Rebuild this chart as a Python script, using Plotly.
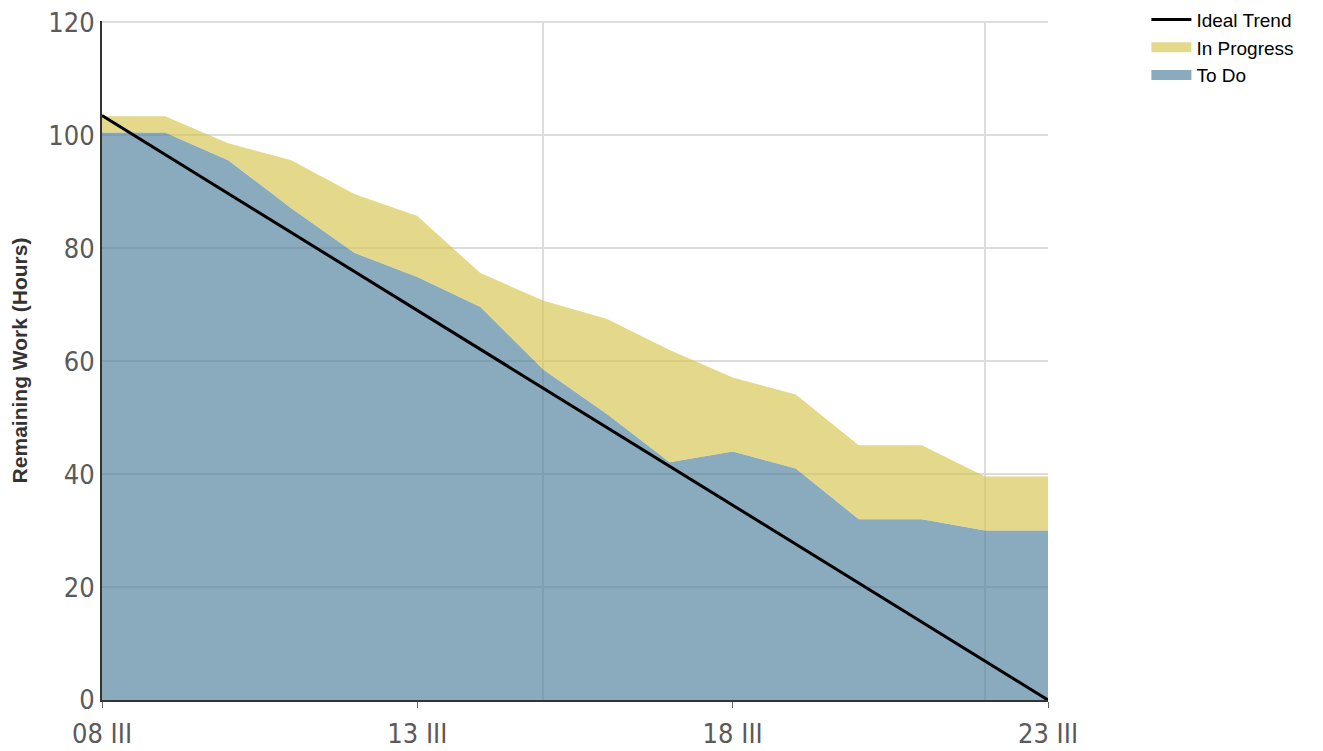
import plotly.graph_objects as go

dates = ["2015-03-%02d" % d for d in range(8, 24)]
todo = [100.5, 100.5, 95.6, 87.1, 79.2, 74.9, 69.6, 58.5, 50.7, 42.1, 44.0, 41.0, 32.0, 32.0, 30.0, 30.0]
total = [103.4, 103.4, 98.6, 95.6, 89.6, 85.7, 75.6, 70.7, 67.5, 62.0, 57.1, 54.1, 45.1, 45.1, 39.6, 39.6]
in_progress = [round(t - d, 1) for t, d in zip(total, todo)]
ideal_dates = [dates[0], dates[-1]]
ideal_vals = [103.5, 0]

tick_vals = ["2015-03-08", "2015-03-13", "2015-03-18", "2015-03-23"]
tick_text = ["08 III", "13 III", "18 III", "23 III"]
week_vals = ["2015-03-15", "2015-03-22"]

todo_color = "rgba(75,124,153,0.65)"
prog_color = "rgba(213,195,75,0.65)"

fig = go.Figure()
fig.add_trace(go.Scatter(x=dates, y=todo, name="To Do", stackgroup="one", mode="none",
                         fillcolor=todo_color, showlegend=False))
fig.add_trace(go.Scatter(x=dates, y=in_progress, name="In Progress", stackgroup="one", mode="none",
                         fillcolor=prog_color, showlegend=False))
fig.add_trace(go.Scatter(x=ideal_dates, y=ideal_vals, name="Ideal Trend", mode="lines",
                         line=dict(color="black", width=3)))
# legend entries
fig.add_trace(go.Scatter(x=[None], y=[None], name="In Progress", mode="lines",
                         line=dict(color="#e4d88a", width=18)))
fig.add_trace(go.Scatter(x=[None], y=[None], name="To Do", mode="lines",
                         line=dict(color="#8aaabd", width=18)))

fig.update_layout(
    width=1315, height=743,
    margin=dict(l=94, r=275, t=13, b=51, autoexpand=False),
    paper_bgcolor="white", plot_bgcolor="white",
    legend=dict(x=1.104, xanchor="left", y=1.03, yanchor="top", traceorder="normal",
                font=dict(family="Liberation Sans, Arial", size=19, color="black"),
                bgcolor="rgba(0,0,0,0)", tracegroupgap=0, itemwidth=40),
    showlegend=True,
)
fig.update_xaxes(
    range=["2015-03-08", "2015-03-23"], automargin=False,
    tickmode="array", tickvals=tick_vals, ticktext=tick_text,
    showgrid=False, showline=True, linecolor="#333", linewidth=2,
    ticks="outside", ticklen=6, tickcolor="#666", tickwidth=1,
    ticklabelstandoff=3, ticklabeloverflow="allow",
    tickfont=dict(family="DejaVu Sans Condensed", size=27, color="#5a5a5a"),
    minor=dict(tickmode="array", tickvals=week_vals, showgrid=True, gridcolor="#dddddd", gridwidth=2, ticks=""),
    zeroline=False,
)
fig.update_yaxes(
    range=[0, 120.25], dtick=20, tick0=0, automargin=False,
    showgrid=True, gridcolor="#dddddd", gridwidth=2,
    showline=True, linecolor="#333", linewidth=2,
    ticks="", ticklabeloverflow="allow",
    tickfont=dict(family="DejaVu Sans Condensed", size=27, color="#5a5a5a"),
    title=dict(text="<b>Remaining Work (Hours)</b>", font=dict(family="Liberation Sans, Arial", size=21, color="#333"), standoff=17),
    zeroline=False,
)
fig.write_html("out.html")
